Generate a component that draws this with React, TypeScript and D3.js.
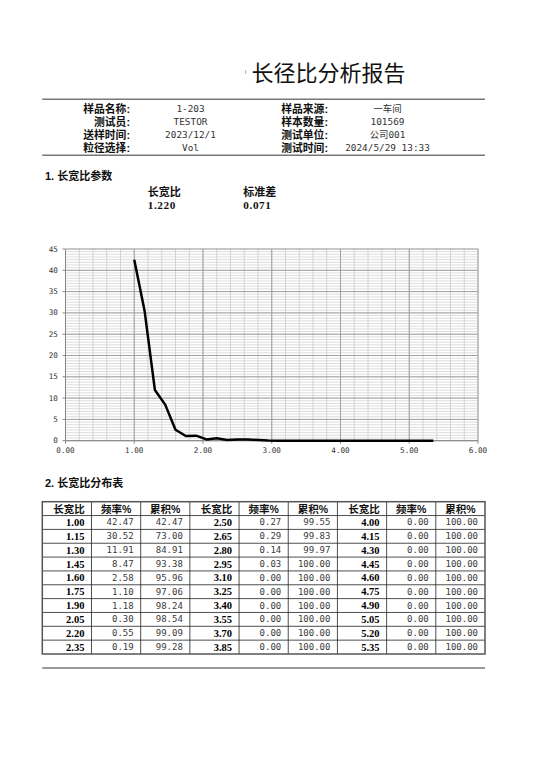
import React from "react";
import * as d3 from "d3";

const infoLeftLabels = ["样品名称:", "测试员:", "送样时间:", "粒径选择:"];
const infoLeftValues = ["1-203", "TESTOR", "2023/12/1", "Vol"];
const infoRightLabels = ["样品来源:", "样本数量:", "测试单位:", "测试时间:"];
const infoRightValues = ["一车间", "101569", "公司001", "2024/5/29 13:33"];

const paramLabels = ["长宽比", "标准差"];
const paramValues = ["1.220", "0.071"];

const ratios = [
  "1.00", "1.15", "1.30", "1.45", "1.60", "1.75", "1.90", "2.05", "2.20", "2.35",
  "2.50", "2.65", "2.80", "2.95", "3.10", "3.25", "3.40", "3.55", "3.70", "3.85",
  "4.00", "4.15", "4.30", "4.45", "4.60", "4.75", "4.90", "5.05", "5.20", "5.35",
];
const freq = [
  42.47, 30.52, 11.91, 8.47, 2.58, 1.1, 1.18, 0.3, 0.55, 0.19,
  0.27, 0.29, 0.14, 0.03, 0, 0, 0, 0, 0, 0,
  0, 0, 0, 0, 0, 0, 0, 0, 0, 0,
];
const cumulative = [
  42.47, 73.0, 84.91, 93.38, 95.96, 97.06, 98.24, 98.54, 99.09, 99.28,
  99.55, 99.83, 99.97, 100, 100, 100, 100, 100, 100, 100,
  100, 100, 100, 100, 100, 100, 100, 100, 100, 100,
];
const tableHeaders = ["长宽比", "频率%", "累积%"];
const xTicks = [0, 1, 2, 3, 4, 5, 6];
const yTicks = [0, 5, 10, 15, 20, 25, 30, 35, 40, 45];

const TITLE = "'Noto Sans CJK SC', sans-serif";
const CJK = "'Liberation Sans', 'Noto Sans CJK SC', sans-serif";
const MONO = "'DejaVu Sans Mono', 'Noto Sans CJK SC', monospace";
const SERIF = "'Liberation Serif', 'Noto Sans CJK SC', serif";

export default function App() {
  const W = 554;
  const H = 774;
  const x = d3.scaleLinear().domain([0, 6]).range([65.5, 478]);
  const y = d3.scaleLinear().domain([0, 45]).range([440.7, 249]);

  const minorX = d3.range(0, 6.0001, 0.2);
  const minorY = d3.range(0, 45.0001, 0.625);

  const pts: [number, number][] = ratios.map((r, i) => [+r, freq[i]]);
  const line = d3
    .line<[number, number]>()
    .x((d) => x(d[0]))
    .y((d) => y(d[1]));

  const tLeft = 42.3;
  const tTop = 501.7;
  const colW = (485 - 42.3) / 9;
  const rowH = (654 - 501.7) / 11;

  const infoRowsY = [108.5, 121.5, 134.5, 147.5];

  const cells: React.ReactNode[] = [];
  for (let g = 0; g < 3; g++) {
    for (let c = 0; c < 3; c++) {
      const col = g * 3 + c;
      const cx = tLeft + col * colW;
      cells.push(
        <text
          key={`h${col}`}
          x={cx + colW / 2 + (c === 0 ? 2 : 0)}
          y={tTop + rowH / 2}
          dominantBaseline="central"
          textAnchor="middle"
          fontFamily={CJK}
          fontWeight="bold"
          fontSize={10.5}
          fill="#111"
        >
          {tableHeaders[c]}
        </text>
      );
      for (let r = 0; r < 10; r++) {
        const idx = g * 10 + r;
        const cy = tTop + (r + 1) * rowH + rowH / 2;
        const val =
          c === 0 ? ratios[idx] : c === 1 ? freq[idx].toFixed(2) : cumulative[idx].toFixed(2);
        cells.push(
          <text
            key={`c${col}-${r}`}
            x={cx + colW - 7}
            y={cy}
            dominantBaseline="central"
            textAnchor="end"
            fontFamily={c === 0 ? SERIF : MONO}
            fontWeight={c === 0 ? "bold" : "normal"}
            fontSize={c === 0 ? 10.5 : 9}
            fill={c === 0 ? "#000" : "#3a3a3a"}
          >
            {val}
          </text>
        );
      }
    }
  }

  return (
    <svg
      width={W}
      height={H}
      style={{ position: "absolute", left: 0, top: 0, background: "#fff" }}
    >
      <rect x={0} y={0} width={W} height={H} fill="#fff" />
      {/* Title */}
      <text x={251.5} y={81} fontFamily={TITLE} fontSize={22} fill="#111">
        长径比分析报告
      </text>
      <rect x={245} y={70} width={1.2} height={4} fill="#bbb" />

      {/* Header rules */}
      <line x1={42.3} x2={485} y1={99.3} y2={99.3} stroke="#777" strokeWidth={1.5} />
      <line x1={42.3} x2={485} y1={155.3} y2={155.3} stroke="#777" strokeWidth={1.5} />

      {infoRowsY.map((yy, i) => (
        <g key={`info${i}`}>
          <text x={130} y={yy} dominantBaseline="central" textAnchor="end" fontFamily={CJK} fontWeight="bold" fontSize={10.8} fill="#111">
            {infoLeftLabels[i]}
          </text>
          <text x={190.5} y={yy} dominantBaseline="central" textAnchor="middle" fontFamily={MONO} fontSize={9.4} fill="#333">
            {infoLeftValues[i]}
          </text>
          <text x={328} y={yy} dominantBaseline="central" textAnchor="end" fontFamily={CJK} fontWeight="bold" fontSize={10.8} fill="#111">
            {infoRightLabels[i]}
          </text>
          <text x={387.5} y={yy} dominantBaseline="central" textAnchor="middle" fontFamily={MONO} fontSize={9.4} fill="#333">
            {infoRightValues[i]}
          </text>
        </g>
      ))}

      {/* Section 1 */}
      <text x={45} y={176} dominantBaseline="central" fontFamily={CJK} fontWeight="bold" fontSize={11} fill="#111">
        1. 长宽比参数
      </text>
      {paramLabels.map((l, i) => (
        <g key={`p${i}`}>
          <text x={i === 0 ? 147.7 : 243.3} y={192} dominantBaseline="central" fontFamily={CJK} fontWeight="bold" fontSize={11} fill="#111">
            {l}
          </text>
          <text x={i === 0 ? 147.7 : 243.3} y={204.8} dominantBaseline="central" fontFamily={SERIF} fontWeight="bold" fontSize={11.2} letterSpacing={0.6} fill="#111">
            {paramValues[i]}
          </text>
        </g>
      ))}

      {/* Chart grid */}
      {minorY.map((v, i) => (
        <line key={`my${i}`} x1={x(0)} x2={x(6)} y1={y(v)} y2={y(v)} stroke="#d4d4d4" strokeWidth={0.8} />
      ))}
      {minorX.map((v, i) => (
        <line key={`mx${i}`} x1={x(v)} x2={x(v)} y1={y(0)} y2={y(45)} stroke="#cfcfcf" strokeWidth={0.9} />
      ))}
      {yTicks.map((v) => (
        <line key={`gy${v}`} x1={x(0)} x2={x(6)} y1={y(v)} y2={y(v)} stroke="#a0a0a0" strokeWidth={1} />
      ))}
      {xTicks.map((v) => (
        <line key={`gx${v}`} x1={x(v)} x2={x(v)} y1={y(0)} y2={y(45)} stroke="#a0a0a0" strokeWidth={1} />
      ))}
      <line x1={x(0)} x2={x(0)} y1={y(0)} y2={y(45)} stroke="#888" strokeWidth={1} />
      <line x1={x(0)} x2={x(6)} y1={y(0)} y2={y(0)} stroke="#888" strokeWidth={1} />
      {yTicks.map((v) => (
        <line key={`ty${v}`} x1={x(0) - 3} x2={x(0)} y1={y(v)} y2={y(v)} stroke="#888" strokeWidth={1} />
      ))}
      {xTicks.map((v) => (
        <line key={`tx${v}`} x1={x(v)} x2={x(v)} y1={y(0)} y2={y(0) + 3} stroke="#888" strokeWidth={1} />
      ))}
      {yTicks.map((v) => (
        <text key={`ly${v}`} x={57.8} y={y(v)} dominantBaseline="central" textAnchor="end" fontFamily={MONO} fontSize={7.6} fill="#333">
          {v}
        </text>
      ))}
      {xTicks.map((v) => (
        <text key={`lx${v}`} x={x(v)} y={450.5} dominantBaseline="central" textAnchor="middle" fontFamily={MONO} fontSize={7.6} fill="#333">
          {v.toFixed(2)}
        </text>
      ))}
      <path d={line(pts) || ""} fill="none" stroke="#000" strokeWidth={2.5} strokeLinejoin="round" />

      {/* Section 2 */}
      <text x={45} y={483.3} dominantBaseline="central" fontFamily={CJK} fontWeight="bold" fontSize={11} fill="#111">
        2. 长宽比分布表
      </text>

      {/* Table grid */}
      {d3.range(1, 11).map((r) => (
        <line key={`tr${r}`} x1={tLeft} x2={tLeft + 9 * colW} y1={tTop + r * rowH} y2={tTop + r * rowH} stroke="#222" strokeWidth={0.8} />
      ))}
      {d3.range(1, 9).map((c) => (
        <line key={`tc${c}`} x1={tLeft + c * colW} x2={tLeft + c * colW} y1={tTop} y2={tTop + 11 * rowH} stroke="#222" strokeWidth={0.8} />
      ))}
      <rect x={tLeft} y={tTop} width={9 * colW} height={11 * rowH} fill="none" stroke="#555" strokeWidth={1.5} />
      {cells}

      {/* Bottom rule */}
      <line x1={42.3} x2={485} y1={668} y2={668} stroke="#999" strokeWidth={2} />
    </svg>
  );
}
